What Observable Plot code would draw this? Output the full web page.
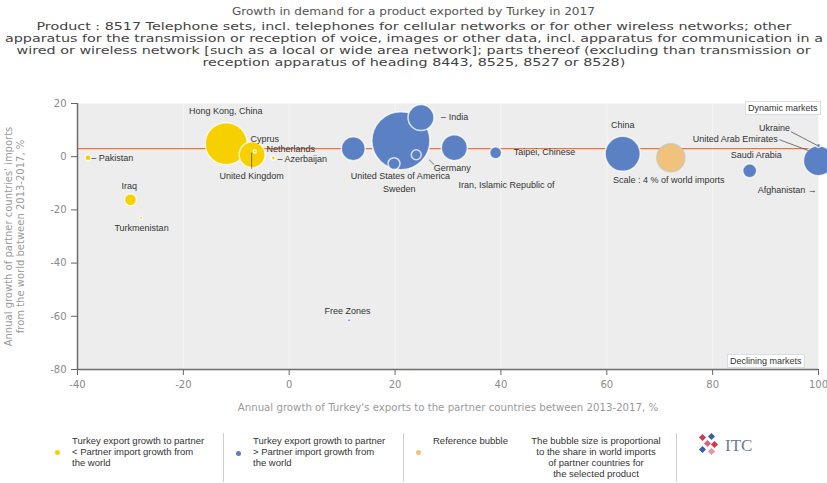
<!DOCTYPE html>
<html>
<head>
<meta charset="utf-8">
<script src="https://cdn.jsdelivr.net/npm/d3@7"></script>
<script src="https://cdn.jsdelivr.net/npm/@observablehq/plot@0.6"></script>
<style>
  html, body { margin: 0; padding: 0; background: #fff; }
  #page { position: relative; width: 827px; height: 483px; overflow: hidden; font-family: "DejaVu Sans", sans-serif; }
  #chart { position: absolute; left: 0; top: 0; }
  .tl { position: absolute; left: 0; width: 827px; text-align: center; white-space: nowrap; color: #4a4a4a; }
  .tl span { display: inline-block; transform-origin: 50% 50%; }
  .lg { position: absolute; font-family: "Liberation Sans", Arial, sans-serif; font-size: 9.5px; line-height: 11px; color: #333; white-space: nowrap; }
  .sep { position: absolute; top: 433px; width: 1px; height: 49px; background: #cfcfcf; }
  .dot { position: absolute; width: 5px; height: 5px; border-radius: 50%; }
  .box { position: absolute; font-family: "Liberation Sans", Arial, sans-serif; font-size: 9px; color: #333; background: #fff; border: 1px solid #d8dde6; padding: 0 2px; line-height: 12px; white-space: nowrap; }
</style>
</head>
<body>
<div id="page">
  <div id="chart"></div>
  <div id="titles"></div>
  <div class="box" style="left:745px; top:101px;">Dynamic markets</div>
  <div class="box" style="left:727px; top:354px;">Declining markets</div>
  <div id="legend"></div>
</div>
<script>
// ---------- data ----------
const titleText = "Growth in demand for a product exported by Turkey in 2017";
const subtitleLines = [
  "Product : 8517 Telephone sets, incl. telephones for cellular networks or for other wireless networks; other",
  "apparatus for the transmission or reception of voice, images or other data, incl. apparatus for communication in a",
  "wired or wireless network [such as a local or wide area network]; parts thereof (excluding than transmission or",
  "reception apparatus of heading 8443, 8525, 8527 or 8528)"
];
const xTitle = "Annual growth of Turkey's exports to the partner countries between 2013-2017, %";
const yTitle = "Annual growth of partner countries' imports\nfrom the world between 2013-2017, %";

const xTicks = [-40, -20, 0, 20, 40, 60, 80, 100];
const yTicks = [20, 0, -20, -40, -60, -80];

// partner bubbles: export growth (x), import growth (y), share in world imports (%)
const partners   = ["United States of America", "Hong Kong, China", "China", "United Arab Emirates", "United Kingdom", "India", "Germany", "Netherlands", "Saudi Arabia", "Sweden", "Taipei, Chinese", "Iraq", "Iran, Islamic Republic of", "Pakistan", "Ukraine", "Azerbaijan", "Cyprus", "Turkmenistan", "Free Zones"];
const exportGrowth = [21.1, -11.9, 63.0, 100.0, -7.0, 24.9, 31.2, 12.1, 87.0, 19.8, 39.0, -30.0, 24.0, -38.0, 100.0, -3.0, -6.5, -28.0, 11.3];
const importGrowth = [6.0, 4.9, 1.1, -1.5, 0.75, 14.7, 3.4, 3.0, -5.3, -2.6, 1.5, -16.2, 0.75, -0.4, 4.2, -0.5, 2.0, -23.0, -61.5];
const importShare  = [17.2, 9.0, 6.3, 4.6, 3.45, 3.45, 3.45, 2.9, 1.0, 0.73, 0.73, 0.73, 0.5, 0.18, 0.08, 0.08, 0.05, 0.05, 0.05];

// reference bubble
const refShare = 4;
const refX = 72.1, refY = -0.4;
const worldImportGrowth = 3.0;

// labels (text, x, y, anchor)
const labelText = ["Hong Kong, China", "Cyprus", "Netherlands", "– Azerbaijan", "United Kingdom", "– Pakistan", "Iraq", "Turkmenistan", "Free Zones", "– India", "Germany", "United States of America", "Sweden", "Iran, Islamic Republic of", "Taipei, Chinese", "China", "Scale : 4 % of world imports", "United Arab Emirates", "Ukraine", "Saudi Arabia", "Afghanistan →"];
const labelX = [-12.0, -7.3, -4.3, -2.2, -7.1, -37.4, -30.2, -27.9, 11.0, 28.7, 27.3, 21.0, 20.8, 32.0, 42.4, 63.0, 71.7, 92.3, 91.7, 83.4, 88.5];
const labelY = [17.0, 6.8, 3.0, -0.75, -7.2, -0.4, -10.9, -26.8, -58.1, 14.7, -4.2, -7.2, -12.1, -10.6, 1.9, 11.7, -8.7, 6.8, 10.6, 0.75, -12.5];
const labelAnchor = ["middle", "start", "start", "start", "middle", "start", "middle", "middle", "middle", "start", "start", "middle", "middle", "start", "start", "middle", "middle", "end", "middle", "start", "start"];

// leader lines
const leaderX1 = [-7.1, 26.4, 92.6, 94.8];
const leaderY1 = [-4.5, -1.1, 6.4, 9.4];
const leaderX2 = [-7.1, 27.4, 98.1, 99.8];
const leaderY2 = [1.5, -3.0, 2.3, 4.2];

// ---------- build ----------
const bubbles = partners.map((name, i) => ({
  name, x: exportGrowth[i], y: importGrowth[i], share: importShare[i],
  kind: exportGrowth[i] < importGrowth[i] ? "below" : "above"
}));
bubbles.push({name: "Reference", x: refX, y: refY, share: refShare, kind: "ref"});

const labels = labelText.map((t, i) => ({t, x: labelX[i], y: labelY[i], a: labelAnchor[i]}));
const leaders = leaderX1.map((d, i) => ({x1: leaderX1[i], y1: leaderY1[i], x2: leaderX2[i], y2: leaderY2[i]}));

const labelFont = "Liberation Sans, Arial, sans-serif";
const textMark = a => Plot.text(labels.filter(d => d.a === a), {
  x: "x", y: "y", text: "t", textAnchor: a, fill: "#333", fontSize: 9, fontFamily: labelFont
});

const chart = Plot.plot({
  width: 827, height: 483,
  marginTop: 103, marginBottom: 114, marginLeft: 77, marginRight: 9,
  style: {fontFamily: "DejaVu Sans, sans-serif", fontSize: "10px", color: "#8a8a8a", background: "transparent", overflow: "visible"},
  x: {domain: [-40, 100]},
  y: {domain: [-80, 20]},
  r: {type: "sqrt", domain: [0, 4], range: [0, 14]},
  color: {domain: ["below", "above", "ref"], range: ["#f7d000", "#5b81c4", "#f0c27c"]},
  marks: [
    Plot.frame({fill: "#ededed", stroke: null}),
    Plot.gridX(xTicks.slice(1, -1), {stroke: "#f6f6f6", strokeOpacity: 1}),
    Plot.ruleY([worldImportGrowth], {stroke: "#ea7440", strokeWidth: 1.3}),
    Plot.dot(bubbles, {
      x: "x", y: "y", r: "share", fill: "kind",
      stroke: d => d.kind === "ref" ? "#c9c3b5" : "#ffffff",
      strokeOpacity: 0.75, strokeWidth: 1.5,
      sort: {channel: "r", order: "descending"}
    }),
    Plot.link(leaders, {x1: "x1", y1: "y1", x2: "x2", y2: "y2", stroke: "#555", strokeWidth: 0.8}),
    textMark("start"), textMark("middle"), textMark("end"),
    Plot.axisX(xTicks, {tickSize: 6, tickPadding: 5, stroke: "#666", fill: "#8a8a8a", tickFormat: d => String(d), label: null}),
    Plot.axisY(yTicks, {tickSize: 6, tickPadding: 5, stroke: "#666", fill: "#8a8a8a", tickFormat: d => String(d), label: null}),
    Plot.ruleX([-40], {stroke: "#6d6d6d", strokeWidth: 1.5}),
    Plot.ruleY([-80], {stroke: "#6d6d6d", strokeWidth: 1.5}),
    Plot.text([xTitle], {frameAnchor: "bottom", dy: 41, fill: "#9a9a9a", fontSize: 10.2}),
    Plot.text([yTitle], {frameAnchor: "left", dx: -63, rotate: -90, textAnchor: "middle", lineAnchor: "middle", fill: "#9a9a9a", fontSize: 10, lineHeight: 1.2})
  ]
});
document.getElementById("chart").appendChild(chart);

// ---------- titles ----------
const titles = document.getElementById("titles");
const centers = [12, 27, 39, 51, 63];
const allLines = [titleText, ...subtitleLines];
allLines.forEach((t, i) => {
  const d = document.createElement("div");
  d.className = "tl";
  d.style.top = (centers[i] - 6) + "px";
  d.style.fontSize = "10px";
  d.style.lineHeight = "12px";
  d.style.color = i === 0 ? "#555" : "#444";
  const s = document.createElement("span");
  s.textContent = t;
  d.appendChild(s);
  titles.appendChild(d);
});
// stretch each line horizontally to the reference's width
const spans = titles.querySelectorAll("span");
const w2 = spans[2].getBoundingClientRect().width;
const subScale = 818 / w2;
spans.forEach((s, i) => {
  const w = s.getBoundingClientRect().width;
  const k = i === 0 ? 363 / w : subScale;
  s.style.transform = `scaleX(${k})`;
});

// ---------- legend ----------
const legend = document.getElementById("legend");
legend.innerHTML = `
  <div class="dot" style="left:55px; top:450px; background:#f7d000;"></div>
  <div class="lg" style="left:72px; top:435px;">Turkey export growth to partner<br>&lt; Partner import growth from<br>the world</div>
  <div class="sep" style="left:223px;"></div>
  <div class="dot" style="left:236px; top:451px; background:#5b81c4;"></div>
  <div class="lg" style="left:253px; top:435px;">Turkey export growth to partner<br>&gt; Partner import growth from<br>the world</div>
  <div class="sep" style="left:403px;"></div>
  <div class="dot" style="left:416px; top:450px; background:#f0c27c;"></div>
  <div class="lg" style="left:433px; top:435px;">Reference bubble</div>
  <div class="lg" style="left:518px; top:435px; width:156px; text-align:center;">The bubble size is proportional<br>to the share in world imports<br>of partner countries for<br>the selected product</div>
  <div class="sep" style="left:676px;"></div>
  <svg style="position:absolute; left:698px; top:432px;" width="70" height="26">
    <g>
      <rect x="2" y="3" width="5" height="5" fill="#d9344a" transform="rotate(45 4.5 5.5)"/>
      <rect x="11" y="2" width="5" height="5" fill="#3a5ea8" transform="rotate(45 13.5 4.5)"/>
      <rect x="7" y="9" width="5" height="5" fill="#e0607a" transform="rotate(45 9.5 11.5)"/>
      <rect x="14" y="10" width="5" height="5" fill="#d9344a" transform="rotate(45 16.5 12.5)"/>
      <rect x="2" y="15" width="5" height="5" fill="#3a5ea8" transform="rotate(45 4.5 17.5)"/>
      <rect x="11" y="17" width="5" height="5" fill="#e892a6" transform="rotate(45 13.5 19.5)"/>
    </g>
    <text x="27" y="19" font-family="Liberation Serif, serif" font-size="17" fill="#6b7b95">ITC</text>
  </svg>
`;
</script>
</body>
</html>
